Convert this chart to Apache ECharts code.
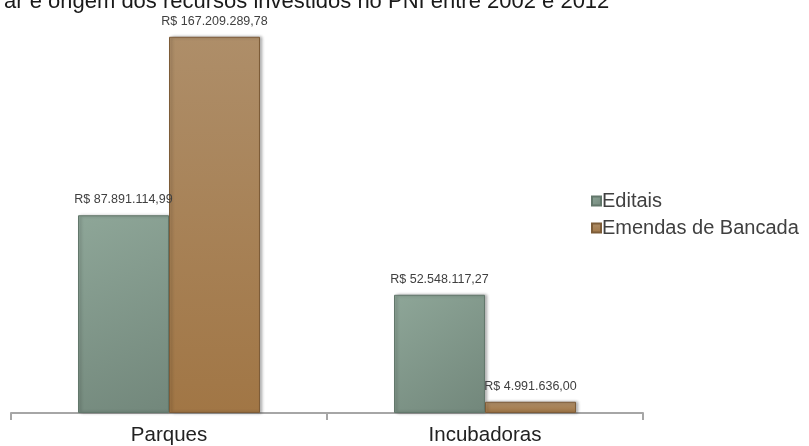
<!DOCTYPE html>
<html>
<head>
<meta charset="utf-8">
<script src="https://cdn.jsdelivr.net/npm/echarts@6/dist/echarts.min.js"></script>
<style>
html,body{margin:0;padding:0;background:#fff;}
#chart{width:809px;height:446px;}
</style>
</head>
<body>
<div id="chart"></div>
<script>
const titleText = 'ar e origem dos recursos investidos no PNI entre 2002 e 2012';
const categories = ['Parques', 'Incubadoras'];
const seriesNames = ['Editais', 'Emendas de Bancada'];
const editais = [87891114.99, 52548117.27];
const emendas = [167209289.78, 4991636.00];

function brl(v) {
  const parts = v.toFixed(2).split('.');
  const intPart = parts[0].replace(/\B(?=(\d{3})+(?!\d))/g, '.');
  return 'R$ ' + intPart + ',' + parts[1];
}

const FONT = '"Liberation Sans", Arial, sans-serif';

const gEditais = new echarts.graphic.LinearGradient(0, 0, 1, 1, [
  {offset: 0, color: '#8ea698'},
  {offset: 1, color: '#72877b'}
]);
const gEmendas = new echarts.graphic.LinearGradient(0, 0, 0, 1, [
  {offset: 0, color: '#ae8e69'},
  {offset: 1, color: '#a17645'}
]);

const chart = echarts.init(document.getElementById('chart'), null, {renderer: 'canvas'});
chart.setOption({
  animation: false,
  backgroundColor: '#ffffff',
  title: {
    text: titleText,
    left: -1,
    top: -14,
    textStyle: {fontSize: 22, fontWeight: 'normal', color: '#1a1a1a', fontFamily: FONT}
  },
  legend: {
    orient: 'vertical',
    left: 586,
    top: 186,
    itemWidth: 9,
    itemHeight: 9,
    itemGap: 7,
    icon: 'rect',
    textStyle: {fontSize: 20, color: '#404040', fontFamily: FONT, padding: [0, 0, 0, -4]},
    data: seriesNames
  },
  grid: {left: 11, right: 166, top: 8, bottom: 33, containLabel: false},
  xAxis: {
    type: 'category',
    data: categories,
    boundaryGap: true,
    axisLine: {lineStyle: {color: '#a6a6a6', width: 2}},
    axisTick: {show: true, length: 7, lineStyle: {color: '#a6a6a6', width: 2}},
    axisLabel: {fontSize: 20.5, color: '#222222', fontFamily: FONT, margin: 12}
  },
  yAxis: {
    type: 'value',
    min: 0,
    max: 180000000,
    show: false,
    splitLine: {show: false}
  },
  series: [
    {
      name: seriesNames[0],
      type: 'bar',
      data: editais,
      barWidth: 91,
      barGap: '0%',
      itemStyle: {
        color: gEditais,
        borderColor: '#62776b',
        borderWidth: 1,
        shadowColor: 'rgba(0,0,0,0.3)',
        shadowBlur: 3,
        shadowOffsetX: 2,
        shadowOffsetY: 0
      },
      label: {
        show: true,
        position: 'top',
        distance: 9,
        fontSize: 12.5,
        color: '#404040',
        fontFamily: FONT,
        formatter: p => brl(p.value)
      }
    },
    {
      name: seriesNames[1],
      type: 'bar',
      data: emendas,
      barWidth: 91,
      barGap: '0%',
      itemStyle: {
        color: gEmendas,
        borderColor: '#7d5c38',
        borderWidth: 1,
        shadowColor: 'rgba(0,0,0,0.3)',
        shadowBlur: 3,
        shadowOffsetX: 2,
        shadowOffsetY: 0
      },
      label: {
        show: true,
        position: 'top',
        distance: 9,
        fontSize: 12.5,
        color: '#404040',
        fontFamily: FONT,
        formatter: p => brl(p.value)
      }
    }
  ]
});
</script>
</body>
</html>
